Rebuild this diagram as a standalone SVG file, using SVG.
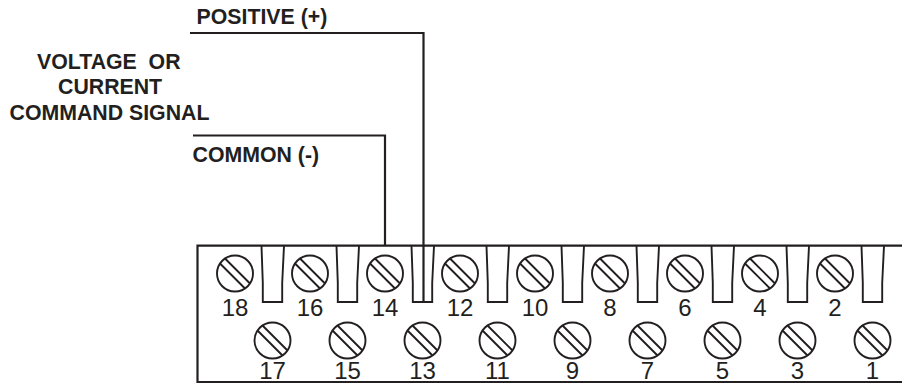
<svg xmlns="http://www.w3.org/2000/svg" width="902" height="383" viewBox="0 0 902 383">
<style>
.l{fill:none;stroke:#231f20;stroke-width:1.9}
.w{fill:none;stroke:#231f20;stroke-width:2.2}
.b{font:bold 21.300px "Liberation Sans",Arial,sans-serif;fill:#231f20}
.n{font:24px "Liberation Sans",Arial,sans-serif;fill:#231f20;text-anchor:middle}
</style>
<defs>
<g id="s"><circle r="18" class="l"/><path class="l" d="M-15 -10L10 15M-10 -15L15 10"/></g>
<path id="t" class="l" d="M0 0L1.300 37V56H20.700V37L22.500 0"/>
</defs>
<g id="block">
<path class="w" d="M902 245.700H197.500V382H902"/>
<use href="#t" x="261.500" y="246"/><use href="#t" x="336.500" y="246"/><use href="#t" x="411.500" y="246"/><use href="#t" x="486.500" y="246"/><use href="#t" x="561.500" y="246"/><use href="#t" x="636.500" y="246"/><use href="#t" x="711.500" y="246"/><use href="#t" x="786.500" y="246"/><use href="#t" x="861.500" y="246"/>
</g>
<g id="connectors">
<path class="w" d="M190 33H423.500V302"/>
<path class="w" d="M193 135.500H385V246"/>
</g>
<g id="labels">
<text class="b" x="196.500" y="24">POSITIVE (+)</text>
<text class="b" x="37" y="69" xml:space="preserve">VOLTAGE  OR</text>
<text class="b" x="58" y="94">CURRENT</text>
<text class="b" x="9.500" y="119.500">COMMAND SIGNAL</text>
<text class="b" x="192.500" y="161.500">COMMON (-)</text>
</g>
<g id="t18"><use href="#s" x="235" y="273.500"/><text class="n" x="235" y="316">18</text></g>
<g id="t16"><use href="#s" x="310" y="273.500"/><text class="n" x="310" y="316">16</text></g>
<g id="t14"><use href="#s" x="385" y="273.500"/><text class="n" x="385" y="316">14</text></g>
<g id="t12"><use href="#s" x="460" y="273.500"/><text class="n" x="460" y="316">12</text></g>
<g id="t10"><use href="#s" x="535" y="273.500"/><text class="n" x="535" y="316">10</text></g>
<g id="t8"><use href="#s" x="610" y="273.500"/><text class="n" x="610" y="316">8</text></g>
<g id="t6"><use href="#s" x="685" y="273.500"/><text class="n" x="685" y="316">6</text></g>
<g id="t4"><use href="#s" x="760" y="273.500"/><text class="n" x="760" y="316">4</text></g>
<g id="t2"><use href="#s" x="835" y="273.500"/><text class="n" x="835" y="316">2</text></g>
<g id="t17"><use href="#s" x="272.500" y="340.500"/><text class="n" x="272.500" y="378.500">17</text></g>
<g id="t15"><use href="#s" x="347.500" y="340.500"/><text class="n" x="347.500" y="378.500">15</text></g>
<g id="t13"><use href="#s" x="422.500" y="340.500"/><text class="n" x="422.500" y="378.500">13</text></g>
<g id="t11"><use href="#s" x="497.500" y="340.500"/><text class="n" x="497.500" y="378.500">11</text></g>
<g id="t9"><use href="#s" x="572.500" y="340.500"/><text class="n" x="572.500" y="378.500">9</text></g>
<g id="t7"><use href="#s" x="647.500" y="340.500"/><text class="n" x="647.500" y="378.500">7</text></g>
<g id="t5"><use href="#s" x="722.500" y="340.500"/><text class="n" x="722.500" y="378.500">5</text></g>
<g id="t3"><use href="#s" x="797.500" y="340.500"/><text class="n" x="797.500" y="378.500">3</text></g>
<g id="t1"><use href="#s" x="872.500" y="340.500"/><text class="n" x="872.500" y="378.500">1</text></g>
</svg>
